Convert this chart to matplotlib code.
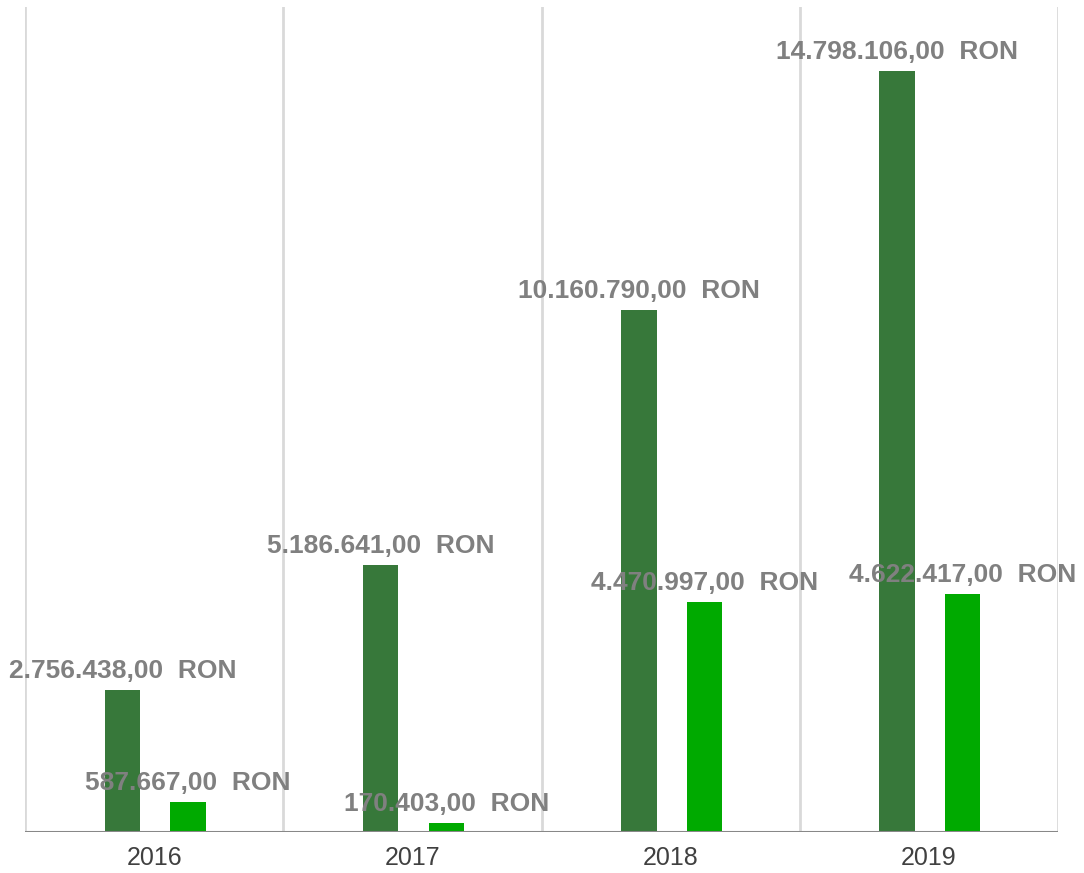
import matplotlib
matplotlib.use("Agg")
import matplotlib.pyplot as plt
import numpy as np

plt.rcParams['font.family'] = ['Liberation Sans', 'DejaVu Sans']

# data
years = ['2016', '2017', '2018', '2019']
series_a = [2756438.00, 5186641.00, 10160790.00, 14798106.00]
series_b = [587667.00, 170403.00, 4470997.00, 4622417.00]
labels_a = ['2.756.438,00  RON', '5.186.641,00  RON', '10.160.790,00  RON', '14.798.106,00  RON']
labels_b = ['587.667,00  RON', '170.403,00  RON', '4.470.997,00  RON', '4.622.417,00  RON']

dark_green = '#37783a'
light_green = '#00aa00'

fig = plt.figure(figsize=(10.84, 8.73), dpi=100)
ax = fig.add_axes([25 / 1084, 41 / 873, (1058 - 25) / 1084, (831 - 6) / 873])

x = np.arange(len(years))
w = 0.137
off = 0.127
shift = 0.004

bars_a = ax.bar(x - off + shift, series_a, width=w, color=dark_green, zorder=3)
bars_b = ax.bar(x + off + shift, series_b, width=w, color=light_green, zorder=3)

for rect, lab in zip(bars_a, labels_a):
    ax.annotate(lab, (rect.get_x() + rect.get_width() / 2, rect.get_height()),
                xytext=(0, 5), textcoords='offset points', ha='center', va='bottom',
                fontsize=19, fontweight='bold', color='#808080', zorder=4)
for rect, lab in zip(bars_b, labels_b):
    ax.annotate(lab, (rect.get_x() + rect.get_width() / 2, rect.get_height()),
                xytext=(0, 5), textcoords='offset points', ha='center', va='bottom',
                fontsize=19, fontweight='bold', color='#808080', zorder=4,
                annotation_clip=False)

ax.set_xlim(-0.5, 3.5)
ax.set_ylim(0, 16.05e6)

# vertical separators between categories
for b in np.arange(-0.5, 4.0, 1.0):
    ax.axvline(b, color='#d9d9d9', lw=2, zorder=1)

ax.axhline(0, color='#888888', lw=2.2, zorder=5)

for s in ax.spines.values():
    s.set_visible(False)
ax.set_yticks([])
ax.set_xticks(x)
ax.set_xticklabels(years, fontsize=18, color='#404040')
ax.tick_params(axis='x', length=0, pad=10)

fig.savefig('out.png', dpi=100)
